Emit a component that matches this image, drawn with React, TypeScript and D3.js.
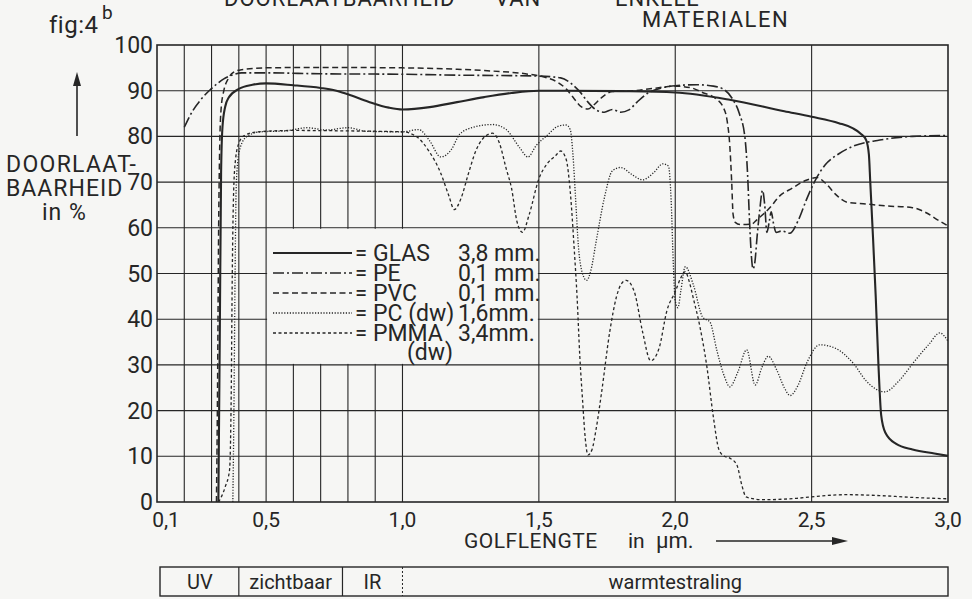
import React from "react";
import * as d3 from "d3";

// wavelength (µm), transmission (%)
const glasData: [number, number][] = [
  [0.325, 0], [0.33, 35], [0.335, 72], [0.34, 82], [0.35, 86.5], [0.363, 88.5], [0.4, 90.4], [0.45, 91.3],
  [0.5, 91.6], [0.6, 91.2], [0.7, 90.6], [0.75, 90.1], [0.8, 89.2], [0.875, 87.6], [0.95, 86.3], [1.0, 85.9],
  [1.1, 86.4], [1.2, 87.5], [1.3, 88.6], [1.4, 89.5], [1.5, 90.0], [1.6, 90.0], [1.8, 89.9], [2.0, 89.6],
  [2.2, 88.0], [2.4, 85.5], [2.5, 84.3], [2.6, 82.9], [2.65, 81.8], [2.68, 80.6], [2.7, 79.2], [2.71, 76],
  [2.715, 70], [2.725, 58], [2.735, 45], [2.745, 30], [2.755, 19], [2.77, 15.2], [2.81, 12.7], [2.87, 11.5],
  [2.95, 10.6], [3.0, 10.1],
];
const peData: [number, number][] = [
  [0.2, 82.0], [0.23, 85.5], [0.26, 88.0], [0.295, 90.2], [0.32, 91.5], [0.345, 92.6], [0.38, 93.5], [0.41, 93.9],
  [0.5, 93.9], [0.7, 93.7], [1.0, 93.6], [1.2, 93.4], [1.4, 93.3], [1.5, 93.2], [1.58, 92.8], [1.62, 91.5],
  [1.65, 89.8], [1.68, 87.5], [1.71, 85.8], [1.74, 85.3], [1.77, 85.9], [1.8, 85.3], [1.83, 85.8], [1.86, 87.5],
  [1.9, 89.5], [1.95, 90.6], [2.0, 91.1], [2.08, 91.3], [2.14, 91.0], [2.18, 90.2], [2.21, 88.2], [2.235, 85],
  [2.255, 80], [2.265, 72], [2.272, 62], [2.279, 54], [2.285, 51], [2.292, 52.5], [2.3, 58], [2.31, 64],
  [2.32, 68.2], [2.328, 65], [2.336, 59], [2.345, 61.5], [2.352, 63.5], [2.36, 61], [2.37, 59], [2.39, 59.3],
  [2.42, 58.8], [2.45, 61.5], [2.48, 66], [2.51, 70], [2.55, 73.8], [2.6, 76.2], [2.65, 77.8], [2.75, 79.2],
  [2.87, 80.0], [3.0, 80.2],
];
const pvcData: [number, number][] = [
  [0.318, 0], [0.322, 25], [0.326, 60], [0.33, 78], [0.335, 86], [0.345, 90], [0.36, 92.5], [0.38, 94],
  [0.41, 94.6], [0.5, 95.0], [0.7, 95.1], [1.0, 95.0], [1.2, 94.7], [1.3, 94.4], [1.45, 93.7], [1.52, 93.0],
  [1.57, 91.8], [1.6, 90.4], [1.63, 88.2], [1.655, 86.5], [1.68, 86.0], [1.7, 86.8], [1.73, 88.5], [1.77, 89.8],
  [1.85, 90.0], [1.92, 90.5], [2.0, 91.0], [2.06, 90.6], [2.1, 89.6], [2.15, 88.2], [2.175, 86.5], [2.19, 83.5],
  [2.2, 78], [2.207, 70], [2.212, 63], [2.22, 61.2], [2.24, 60.7], [2.28, 60.8], [2.3, 61.8], [2.35, 64.6],
  [2.38, 66.8], [2.43, 68.7], [2.48, 70.4], [2.52, 71.0], [2.55, 69.8], [2.59, 67.2], [2.63, 65.6], [2.7, 65.2],
  [2.77, 64.8], [2.87, 64.4], [2.92, 63.3], [2.96, 61.8], [3.0, 60.4],
];
const pcData: [number, number][] = [
  [0.378, 0], [0.382, 20], [0.386, 48], [0.39, 68], [0.396, 74.5], [0.405, 77.5], [0.43, 80], [0.48, 81],
  [0.57, 81.2], [0.65, 81.9], [0.72, 81.4], [0.8, 81.9], [0.87, 81.1], [1.0, 81.0], [1.06, 81.5], [1.1, 79.0],
  [1.14, 75.5], [1.18, 77.2], [1.21, 80.5], [1.26, 82.0], [1.33, 82.6], [1.38, 81.5], [1.43, 77.5], [1.46, 75.5],
  [1.49, 78.0], [1.53, 80.2], [1.57, 82.2], [1.6, 82.5], [1.615, 81.5], [1.625, 76], [1.635, 66], [1.645, 56],
  [1.66, 50], [1.675, 48.5], [1.69, 50.5], [1.71, 57], [1.74, 66.5], [1.77, 72.5], [1.8, 73.2], [1.84, 71.7],
  [1.88, 70.5], [1.92, 72.0], [1.955, 74.0], [1.975, 73.5], [1.985, 66], [1.993, 52], [2.0, 44], [2.01, 42.5],
  [2.02, 46], [2.037, 51.5], [2.067, 47.4], [2.1, 40.5], [2.128, 39.3], [2.152, 33.3], [2.18, 27.5], [2.2, 25.2],
  [2.23, 28.5], [2.262, 33.3], [2.293, 25.6], [2.318, 29.5], [2.341, 31.9], [2.372, 28.9], [2.4, 25], [2.421, 23.3],
  [2.45, 25.5], [2.482, 30.4], [2.53, 34.4], [2.585, 33.7], [2.652, 30.4], [2.7, 26.5], [2.768, 24.1], [2.82, 26.5],
  [2.872, 30.4], [2.93, 34.5], [2.97, 37], [3.0, 35.2],
];
const pmmaData: [number, number][] = [
  [0.326, 0], [0.35, 3.3], [0.366, 7], [0.372, 23], [0.376, 50], [0.381, 68], [0.388, 75], [0.4, 78.5],
  [0.42, 80.2], [0.47, 81.0], [0.6, 81.3], [0.8, 81.2], [1.0, 81.0], [1.05, 80.0], [1.1, 76.5], [1.14, 72.0],
  [1.17, 67.0], [1.19, 64.0], [1.215, 66.5], [1.24, 71.5], [1.27, 77], [1.31, 80.3], [1.33, 80.7], [1.355, 78.6],
  [1.38, 73], [1.4, 68.6], [1.42, 61.3], [1.44, 59.0], [1.465, 63.0], [1.5, 70.7], [1.53, 74], [1.56, 75.7],
  [1.58, 76.8], [1.6, 75.0], [1.615, 68], [1.63, 55], [1.64, 45], [1.65, 32], [1.66, 22.5], [1.67, 14],
  [1.68, 10.3], [1.695, 11.5], [1.71, 16], [1.73, 24], [1.76, 37.3], [1.785, 45], [1.8, 47.5], [1.82, 48.5],
  [1.85, 46], [1.88, 37.3], [1.91, 30.9], [1.94, 33.5], [1.97, 42], [2.0, 46], [2.02, 49], [2.037, 50.4],
  [2.05, 48.5], [2.067, 44.4], [2.09, 38.5], [2.116, 29.6], [2.14, 18.5], [2.16, 11.5], [2.18, 10], [2.2, 9.6],
  [2.226, 8.1], [2.244, 3.7], [2.26, 1.1], [2.32, 0.5], [2.445, 0.8], [2.53, 1.3], [2.63, 1.6], [2.75, 1.4],
  [2.87, 1.0], [3.0, 0.7],
];

const xGrid = [0.2, 0.3, 0.4, 0.5, 0.6, 0.7, 0.8, 0.9, 1.0, 1.5, 2.0, 2.5];
const yGrid = [10, 20, 30, 40, 50, 60, 70, 80, 90];
const yTicks = [0, 10, 20, 30, 40, 50, 60, 70, 80, 90, 100];
const xTicks = [0.5, 1.0, 1.5, 2.0, 2.5, 3.0];
const xTickLabels = ["0,5", "1,0", "1,5", "2,0", "2,5", "3,0"];

const legendNames = ["GLAS", "PE", "PVC", "PC (dw)", "PMMA"];
const legendSizes = ["3,8 mm.", "0,1 mm.", "0,1 mm.", "1,6mm.", "3,4mm."];

const INK = "#262626";
const PAPER = "#f6f6f4";
const FONT = "Roboto, 'DejaVu Sans', sans-serif";

const styles = [
  { data: glasData, dash: "none", w: 2.1 },
  { data: peData, dash: "11,3,2,3", w: 1.6 },
  { data: pvcData, dash: "6,3.5", w: 1.5 },
  { data: pcData, dash: "1.2,1.6", w: 1.3 },
  { data: pmmaData, dash: "3,2.5", w: 1.3 },
];

export default function App() {
  const x = d3.scaleLinear().domain([0.1, 3.0]).range([157, 948]);
  const y = d3.scaleLinear().domain([0, 100]).range([502, 45]);
  const line = d3
    .line<[number, number]>()
    .x((d) => x(d[0]))
    .y((d) => y(d[1]))
    .curve(d3.curveMonotoneX);

  const legendY0 = 253;
  const legendStep = 20;

  return (
    <svg
      width={972}
      height={599}
      style={{ position: "absolute", left: 0, top: 0, display: "block" }}
      fontFamily={FONT}
    >
      <rect x={0} y={0} width={972} height={599} fill={PAPER} />

      {/* title (top line is cut off in the scan) */}
      <text x={224} y={6} fontSize={22} letterSpacing={1} fill={INK}>DOORLAATBAARHEID</text>
      <text x={495} y={6} fontSize={22} letterSpacing={1} fill={INK}>VAN</text>
      <text x={615} y={6} fontSize={22} letterSpacing={1} fill={INK}>ENKELE</text>
      <text x={642} y={27} fontSize={22} letterSpacing={1.5} fill={INK}>MATERIALEN</text>

      <text x={49} y={33} fontSize={24} letterSpacing={0.5} fill={INK}>fig:4</text>
      <text x={102} y={19} fontSize={19} fill={INK}>b</text>

      {/* y axis title */}
      <line x1={77} x2={77} y1={136} y2={84} stroke={INK} strokeWidth={1.6} />
      <path d="M73,86 L77,72 L81,86 Z" fill={INK} />
      <text x={6} y={172} fontSize={23} letterSpacing={1.3} fill={INK}>DOORLAAT-</text>
      <text x={6} y={196} fontSize={23} letterSpacing={1} fill={INK}>BAARHEID</text>
      <text x={42} y={220} fontSize={23} letterSpacing={1} fill={INK}>in %</text>

      {/* grid */}
      {xGrid.map((g) => (
        <line key={"vx" + g} x1={x(g)} x2={x(g)} y1={y(0)} y2={y(100)} stroke={INK} strokeWidth={1.1} />
      ))}
      {yGrid.map((g) => (
        <line key={"hy" + g} x1={x(0.1)} x2={x(3.0)} y1={y(g)} y2={y(g)} stroke={INK} strokeWidth={1.1} />
      ))}
      {/* legend blank area */}
      <rect
        x={x(0.5) + 1}
        y={y(60) + 1}
        width={x(1.5) - x(0.5) - 2}
        height={y(30) - y(60) - 2}
        fill={PAPER}
      />
      <rect x={x(0.1)} y={y(100)} width={x(3.0) - x(0.1)} height={y(0) - y(100)} fill="none" stroke={INK} strokeWidth={1.6} />

      {/* curves */}
      {styles.map((s, i) => (
        <path
          key={"c" + i}
          d={line(s.data) || ""}
          fill="none"
          stroke={INK}
          strokeWidth={s.w}
          strokeDasharray={s.dash}
          strokeLinejoin="round"
        />
      ))}

      {/* y tick labels */}
      {yTicks.map((t) => (
        <text key={"yt" + t} x={153} y={y(t) + 8} fontSize={23} textAnchor="end" fill={INK}>
          {t}
        </text>
      ))}
      {/* x tick labels */}
      <text x={x(0.1) + 9} y={527} fontSize={21} textAnchor="middle" fill={INK}>0,1</text>
      {xTicks.map((t, i) => (
        <text key={"xt" + t} x={x(t)} y={527} fontSize={21} textAnchor="middle" fill={INK}>
          {xTickLabels[i]}
        </text>
      ))}

      {/* x axis title */}
      <text x={464} y={548} fontSize={21} letterSpacing={0.5} fill={INK}>GOLFLENGTE</text>
      <text x={628} y={548} fontSize={21} fill={INK}>in</text>
      <text x={656} y={548} fontSize={22} fill={INK}>µm.</text>
      <line x1={716} x2={836} y1={541} y2={541} stroke={INK} strokeWidth={1.5} />
      <path d="M832,537 L848,541 L832,545 Z" fill={INK} />

      {/* legend */}
      {styles.map((s, i) => (
        <g key={"lg" + i}>
          <line
            x1={273}
            x2={352}
            y1={legendY0 + i * legendStep}
            y2={legendY0 + i * legendStep}
            stroke={INK}
            strokeWidth={s.w}
            strokeDasharray={s.dash}
          />
          <text x={355} y={legendY0 + i * legendStep + 7} fontSize={22} fill={INK}>=</text>
          <text x={373} y={legendY0 + i * legendStep + 8} fontSize={23} fill={INK}>{legendNames[i]}</text>
          <text x={458} y={legendY0 + i * legendStep + 8} fontSize={23} fill={INK}>{legendSizes[i]}</text>
        </g>
      ))}
      <text x={430} y={legendY0 + 5 * legendStep + 7} fontSize={23} textAnchor="middle" fill={INK}>(dw)</text>

      {/* spectrum band */}
      <rect x={x(0.1) + 3} y={567} width={x(3.0) - x(0.1) - 3} height={29} fill="none" stroke={INK} strokeWidth={1.4} />
      <line x1={x(0.4)} x2={x(0.4)} y1={567} y2={596} stroke={INK} strokeWidth={1.2} />
      <line x1={x(0.78)} x2={x(0.78)} y1={567} y2={596} stroke={INK} strokeWidth={1.2} />
      <line x1={x(1.0)} x2={x(1.0)} y1={567} y2={596} stroke={INK} strokeWidth={1} strokeDasharray="2,2" />
      <text x={(x(0.1) + x(0.4)) / 2 + 2} y={589} fontSize={20} textAnchor="middle" fill={INK}>UV</text>
      <text x={(x(0.4) + x(0.78)) / 2} y={589} fontSize={20} textAnchor="middle" fill={INK}>zichtbaar</text>
      <text x={(x(0.78) + x(1.0)) / 2} y={589} fontSize={20} textAnchor="middle" fill={INK}>IR</text>
      <text x={(x(1.0) + x(3.0)) / 2} y={589} fontSize={20} textAnchor="middle" fill={INK}>warmtestraling</text>
    </svg>
  );
}
